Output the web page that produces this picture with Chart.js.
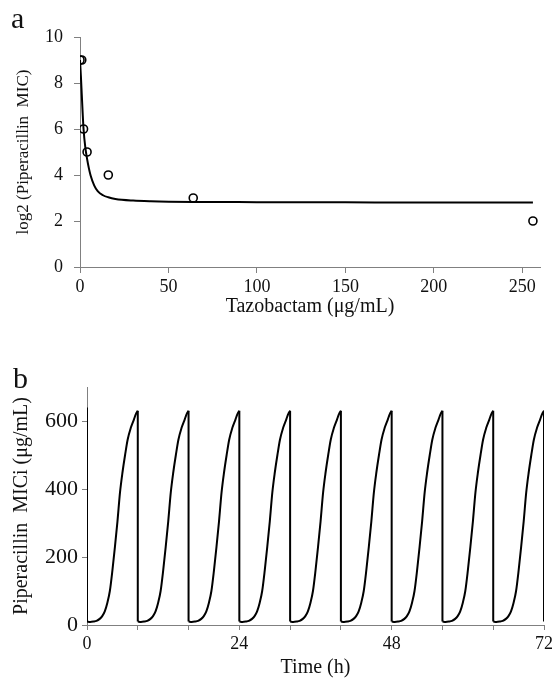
<!DOCTYPE html>
<html><head><meta charset="utf-8">
<script src="https://cdn.jsdelivr.net/npm/chart.js@4"></script>
<style>
body{margin:0;background:#fff;width:556px;height:681px;position:relative;overflow:hidden;font-family:'Liberation Serif',serif;}
#ca{position:absolute;left:0;top:0}
#cb{position:absolute;left:0;top:320px}
.lab{position:absolute;font-size:30px;color:#111;line-height:1}
</style></head><body>
<canvas id="ca" width="556" height="320"></canvas>
<canvas id="cb" width="556" height="361"></canvas>
<div class="lab" style="left:11px;top:3px">a</div>
<div class="lab" style="left:13px;top:363px">b</div>
<script>
// Panel a: observed piperacillin MIC vs tazobactam concentration
const tazoConc = [0, 1, 2, 4, 16, 64, 256];
const log2MIC = [9, 9, 6, 5, 4, 3, 2];
// Panel a: fitted curve
const fitConc = [0, 0.5, 1, 1.5, 2, 3, 4, 5, 6, 8, 10, 13, 16, 20, 30, 40, 64, 100, 150, 200, 256];
const fitLog2MIC = [9.0, 8.3, 7.5, 6.7, 6.0, 5.2, 4.7, 4.3, 3.98, 3.55, 3.3, 3.12, 3.03, 2.96, 2.89, 2.86, 2.83, 2.82, 2.81, 2.8, 2.8];
const xTicksA = [0, 50, 100, 150, 200, 250];
const yTicksA = [0, 2, 4, 6, 8, 10];

// Panel b: piperacillin MICi over time (one dosing interval profile, repeated every dose)
const doseTimes = [0, 8, 16, 24, 32, 40, 48, 56, 64];
const startValue = 640;
const cycleHours = [0, 0.5, 1, 1.5, 2, 2.4, 2.8, 3.2, 3.6, 4.0, 4.4, 4.8, 5.2, 5.6, 6.0, 6.4, 6.9, 7.4, 7.7, 8.0];
const cycleMICi = [10, 9, 10, 12, 18, 26, 40, 65, 100, 160, 230, 305, 390, 450, 500, 545, 580, 605, 620, 630];
const endValue = 10;
const xLabelsB = [0, 24, 48, 72];
const yTicksB = [0, 200, 400, 600];

Chart.defaults.font.family = "'Liberation Serif', 'Times New Roman', serif";
Chart.defaults.color = '#111';
const AXIS = '#808080';

const fitData = fitConc.map((x, i) => ({x, y: fitLog2MIC[i]}));
const obsData = tazoConc.map((x, i) => ({x, y: log2MIC[i]}));

new Chart(document.getElementById('ca'), {
  type: 'scatter',
  data: {datasets: [
    {data: obsData, showLine: false, pointRadius: 4, pointBorderWidth: 1.6, pointBorderColor: '#000', pointBackgroundColor: 'rgba(0,0,0,0)', order: 1},
    {data: fitData, showLine: true, borderColor: '#000', borderWidth: 2, pointRadius: 0, cubicInterpolationMode: 'monotone', order: 2}
  ]},
  options: {
    responsive: false, animation: false, devicePixelRatio: 1,
    layout: {padding: {left: 0, right: 16, top: 37, bottom: 0}},
    plugins: {legend: {display: false}, tooltip: {enabled: false}},
    scales: {
      x: {
        type: 'linear', min: 0, max: 260,
        afterBuildTicks: s => { s.ticks = xTicksA.map(v => ({value: v})); },
        afterFit: s => { s.height = 53; },
        ticks: {font: {size: 18}, padding: 3, maxRotation: 0},
        grid: {display: true, drawOnChartArea: false, drawTicks: true, tickLength: 6, color: AXIS},
        border: {display: true, color: AXIS, width: 1},
        title: {display: true, text: 'Tazobactam (μg/mL)', font: {size: 20}, padding: {top: 0, bottom: 1}}
      },
      y: {
        type: 'linear', min: 0, max: 10,
        afterBuildTicks: s => { s.ticks = yTicksA.map(v => ({value: v})); },
        afterFit: s => { s.width = 80; },
        ticks: {font: {size: 18}, padding: 11},
        grid: {display: true, drawOnChartArea: false, drawTicks: true, tickLength: 6, color: AXIS},
        border: {display: true, color: AXIS, width: 1},
        title: {display: true, text: 'log2 (Piperacillin  MIC)', font: {size: 17}, padding: {top: 13, bottom: 0}}
      }
    }
  }
});

// rising part of every dosing interval (smooth), and the instantaneous drops at each dose
const riseSets = doseTimes.map(d => ({
  data: cycleHours.map((h, i) => ({x: d + h, y: cycleMICi[i]})),
  showLine: true, borderColor: '#000', borderWidth: 2, pointRadius: 0, cubicInterpolationMode: 'monotone'
}));
const dropTimes = doseTimes.concat([doseTimes[doseTimes.length - 1] + cycleHours[cycleHours.length - 1]]);
const dropData = [];
dropTimes.forEach((t, k) => {
  const top = k === 0 ? startValue : cycleMICi[cycleMICi.length - 1];
  const bottom = k === dropTimes.length - 1 ? endValue : cycleMICi[0];
  dropData.push({x: t, y: top}, {x: t, y: bottom}, {x: t, y: null});
});

new Chart(document.getElementById('cb'), {
  type: 'scatter',
  data: {datasets: riseSets.concat([
    {data: dropData, showLine: true, spanGaps: false, borderColor: '#000', borderWidth: 2, pointRadius: 0, tension: 0}
  ])},
  options: {
    responsive: false, animation: false, devicePixelRatio: 1,
    layout: {padding: {left: 0, right: 9, top: 67, bottom: 0}},
    plugins: {legend: {display: false}, tooltip: {enabled: false}},
    scales: {
      x: {
        type: 'linear', min: 0, max: 72,
        afterBuildTicks: s => { s.ticks = dropTimes.map(v => ({value: v})); },
        afterFit: s => { s.height = 56; },
        ticks: {font: {size: 18}, padding: 3, maxRotation: 0, autoSkip: false,
          callback: v => xLabelsB.includes(v) ? String(v) : ''},
        grid: {display: true, drawOnChartArea: false, drawTicks: true, tickLength: 5, color: AXIS},
        border: {display: true, color: AXIS, width: 1},
        title: {display: true, text: 'Time (h)', font: {size: 20}, padding: {top: 0, bottom: 1}}
      },
      y: {
        type: 'linear', min: 0, max: 700,
        afterBuildTicks: s => { s.ticks = yTicksB.map(v => ({value: v})); },
        afterFit: s => { s.width = 87; },
        ticks: {font: {size: 22}, padding: 4},
        grid: {display: true, drawOnChartArea: false, drawTicks: true, tickLength: 5, color: AXIS},
        border: {display: true, color: AXIS, width: 1},
        title: {display: true, text: 'Piperacillin  MICi (μg/mL)', font: {size: 20}, padding: {top: 10, bottom: 0}}
      }
    }
  }
});
</script>
</body></html>
